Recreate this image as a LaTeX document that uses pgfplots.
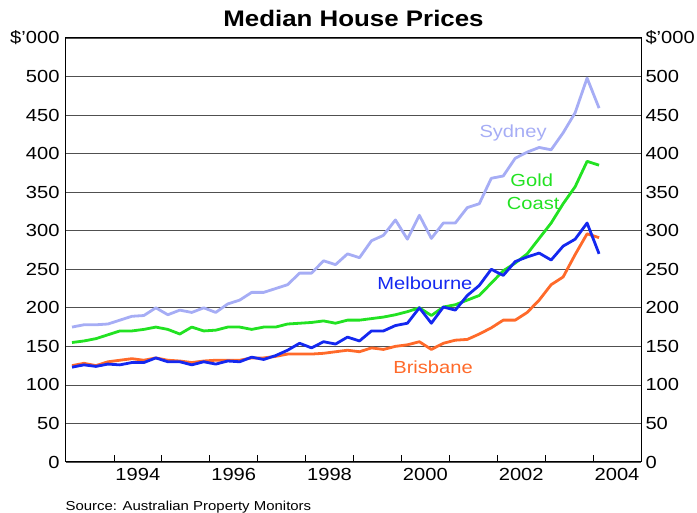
\documentclass[border=0pt]{standalone}
\usepackage{fontspec}
\setmainfont{Liberation Sans}[FakeStretch=1.15]
\usepackage{pgfplots}
\usepackage{pgfplotstable}
\pgfplotsset{compat=1.18}

\definecolor{sydney}{RGB}{166,173,245}
\definecolor{goldcoast}{RGB}{34,226,34}
\definecolor{melb}{RGB}{20,40,240}
\definecolor{brisb}{RGB}{255,106,42}
\definecolor{gridc}{RGB}{80,80,80}

% quarterly medians, $'000
\pgfplotstableread{
x        syd gc  mel bri
1993.125 175 155 123 125
1993.375 178 157 126 128
1993.625 178 160 124 125
1993.875 179 165 127 130
1994.125 184 170 126 132
1994.375 189 170 129 134
1994.625 190 172 129 132
1994.875 200 175 135 135
1995.125 191 172 130 132
1995.375 197 166 130 131
1995.625 194 175 126 129
1995.875 200 170 130 131
1996.125 194 171 127 132
1996.375 205 175 131 132
1996.625 210 175 130 132
1996.875 220 172 136 135
1997.125 220 175 133 135
1997.375 225 175 138 137
1997.625 230 179 145 140
1997.875 245 180 154 140
1998.125 245 181 148 140
1998.375 261 183 156 141
1998.625 256 180 153 143
1998.875 270 184 162 145
1999.125 265 184 157 143
1999.375 287 186 170 148
1999.625 294 188 170 146
1999.875 314 191 177 150
2000.125 289 195 180 152
2000.375 320 200 200 156
2000.625 290 190 180 146
2000.875 310 201 201 154
2001.125 310 204 197 158
2001.375 330 210 216 159
2001.625 335 216 229 166
2001.875 368 232 250 174
2002.125 371 248 242 184
2002.375 394 258 260 184
2002.625 402 270 266 194
2002.875 408 290 271 210
2003.125 405 310 262 230
2003.375 427 335 280 240
2003.625 453 357 289 269
2003.875 498 390 310 296
2004.125 459 385 270 291
}\prices

\newcommand{\lbl}{\fontsize{17.5}{20}\selectfont}

\begin{document}
\begin{tikzpicture}
\pgfplotsset{
  common/.style={
    scale only axis, width=575pt, height=424pt,
    xmin=1993, xmax=2005, ymin=0, ymax=550,
    ytick={0,50,...,550},
    yticklabels={0,50,100,150,200,250,300,350,400,450,500,\$'000},
    major tick length=0pt,
    tick label style={font=\lbl},
    /pgf/number format/assume math mode=true,
  }
}
\begin{axis}[common, name=main,
    axis line style={black, line width=1pt},
    ymajorgrids, grid style={gridc, line width=0.8pt},
    xtick={1994.5,1996.5,...,2004.5},
    xticklabels={1994,1996,1998,2000,2002,2004},
    minor xtick={1994,1995,...,2004},
    minor tick length=7pt,
    minor tick style={black, line width=0.8pt},
    xtick pos=bottom, ytick pos=left,
    xticklabel style={yshift=-3pt},
    yticklabel style={xshift=-3pt},
    clip=false,
    every axis plot/.append style={line width=2.8pt, line join=round}]
\addplot[sydney] table[x=x,y=syd] {\prices};
\addplot[goldcoast] table[x=x,y=gc] {\prices};
\addplot[brisb] table[x=x,y=bri] {\prices};
\addplot[melb] table[x=x,y=mel] {\prices};
\node[font=\lbl, text=sydney] at (axis cs:2002.33,427) {Sydney};
\node[font=\lbl, text=goldcoast] at (axis cs:2002.72,366) {Gold};
\node[font=\lbl, text=goldcoast] at (axis cs:2002.75,335) {Coast};
\node[font=\lbl, text=melb] at (axis cs:2000.49,232) {Melbourne};
\node[font=\lbl, text=brisb] at (axis cs:2000.66,123) {Brisbane};
\node[font=\fontsize{22.5}{25}\selectfont\bfseries, anchor=base] at (rel axis cs:0.5,1) [yshift=11pt] {Median House Prices};
\node[font=\fontsize{13}{15}\selectfont, anchor=base west] at (rel axis cs:0,0) [xshift=-4pt, yshift=-49pt] {Source: Australian Property Monitors};
\end{axis}
\begin{axis}[common,
    axis x line=none, axis y line*=right,
    axis line style={black, line width=1pt},
    yticklabel pos=right,
    yticklabel style={xshift=1pt}]
\addplot[draw=none] coordinates {(1993,0)};
\end{axis}
\pgfresetboundingbox
\path[use as bounding box] ([xshift=-66pt,yshift=-51pt]main.south west) rectangle ([xshift=56pt,yshift=38pt]main.north east);
\end{tikzpicture}
\end{document}
